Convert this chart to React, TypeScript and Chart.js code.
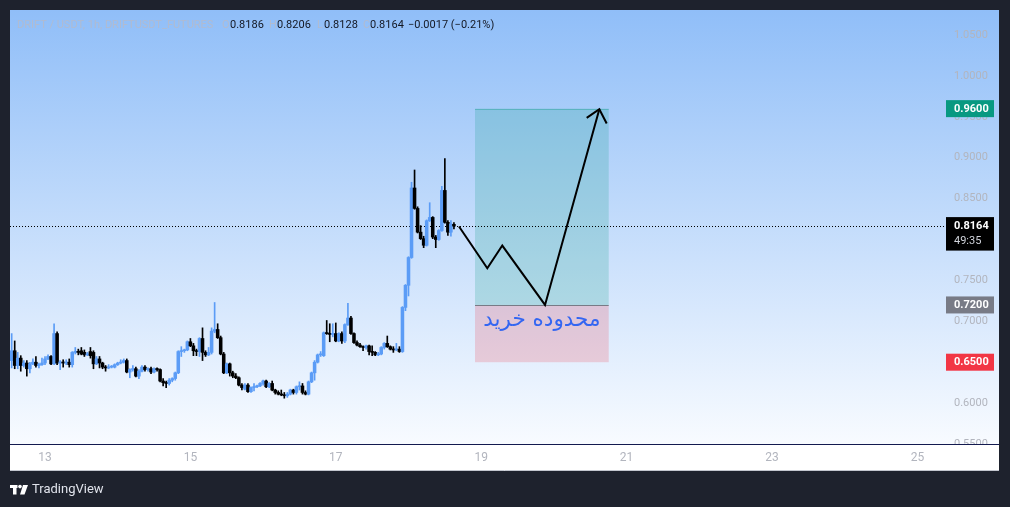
import { useEffect, useRef } from "react";
import { Chart, registerables } from "chart.js";

Chart.register(...registerables);

// ---- text ----
const symbolTitle = "DRIFT / USDT, 1h, DRIFTUSDT_FUTURES";
const ohlcLetters = ["O", "H", "L", "C"];
const ohlcValues = ["0.8186", "0.8206", "0.8128", "0.8164"];
const changeText = "−0.0017 (−0.21%)";
const countdownText = "49:35";
const zoneLabel = "محدوده خرید";
const brandText = "TradingView";

// ---- candles (1h), first candle at day 12, 13:00 ----
const firstCandleDay = 12 + 13 / 24;
const opens = [
  0.652, 0.664, 0.646, 0.655, 0.646, 0.649, 0.642, 0.648, 0.650, 0.646,
  0.647, 0.649, 0.654, 0.657, 0.648, 0.685, 0.649, 0.650, 0.649, 0.650,
  0.647, 0.662, 0.663, 0.664, 0.662, 0.659, 0.663, 0.662, 0.648, 0.654,
  0.649, 0.644, 0.643, 0.644, 0.644, 0.647, 0.649, 0.650, 0.652, 0.638,
  0.641, 0.642, 0.633, 0.639, 0.644, 0.641, 0.642, 0.638, 0.642, 0.641,
  0.627, 0.625, 0.624, 0.628, 0.630, 0.637, 0.663, 0.664, 0.665, 0.675,
  0.670, 0.664, 0.663, 0.679, 0.662, 0.659, 0.662, 0.688, 0.690, 0.680,
  0.660, 0.637, 0.648, 0.637, 0.633, 0.631, 0.622, 0.617, 0.622, 0.614,
  0.619, 0.620, 0.621, 0.624, 0.627, 0.620, 0.624, 0.616, 0.613, 0.611,
  0.610, 0.609, 0.611, 0.616, 0.613, 0.620, 0.621, 0.613, 0.611, 0.626,
  0.637, 0.650, 0.659, 0.658, 0.686, 0.685, 0.684, 0.685, 0.676, 0.685,
  0.676, 0.696, 0.704, 0.685, 0.674, 0.671, 0.669, 0.668, 0.670, 0.663,
  0.662, 0.659, 0.660, 0.668, 0.673, 0.669, 0.666, 0.665, 0.666, 0.663,
  0.717, 0.744, 0.778, 0.863, 0.838, 0.809, 0.801, 0.793, 0.823, 0.827,
  0.803, 0.800, 0.811, 0.860, 0.821, 0.809, 0.8186,
];
const highs = [
  0.685, 0.676, 0.662, 0.658, 0.652, 0.652, 0.650, 0.654, 0.657, 0.649,
  0.655, 0.657, 0.659, 0.658, 0.697, 0.687, 0.652, 0.653, 0.653, 0.654,
  0.663, 0.668, 0.666, 0.668, 0.665, 0.662, 0.668, 0.664, 0.657, 0.657,
  0.650, 0.646, 0.647, 0.646, 0.648, 0.650, 0.653, 0.654, 0.654, 0.642,
  0.646, 0.644, 0.641, 0.646, 0.646, 0.643, 0.644, 0.643, 0.643, 0.642,
  0.630, 0.627, 0.630, 0.631, 0.638, 0.664, 0.669, 0.666, 0.676, 0.679,
  0.673, 0.666, 0.680, 0.692, 0.664, 0.668, 0.692, 0.723, 0.697, 0.682,
  0.662, 0.649, 0.649, 0.639, 0.636, 0.632, 0.624, 0.624, 0.624, 0.620,
  0.624, 0.622, 0.625, 0.628, 0.628, 0.625, 0.627, 0.617, 0.615, 0.616,
  0.613, 0.613, 0.617, 0.617, 0.621, 0.626, 0.624, 0.615, 0.627, 0.638,
  0.652, 0.660, 0.663, 0.687, 0.701, 0.697, 0.697, 0.698, 0.686, 0.687,
  0.697, 0.722, 0.706, 0.686, 0.676, 0.673, 0.670, 0.671, 0.671, 0.670,
  0.663, 0.662, 0.669, 0.674, 0.682, 0.670, 0.669, 0.673, 0.669, 0.718,
  0.745, 0.779, 0.870, 0.885, 0.840, 0.817, 0.804, 0.824, 0.845, 0.828,
  0.805, 0.812, 0.865, 0.899, 0.823, 0.823, 0.8206,
];
const lows = [
  0.643, 0.642, 0.642, 0.639, 0.644, 0.633, 0.637, 0.647, 0.644, 0.643,
  0.646, 0.647, 0.653, 0.647, 0.647, 0.647, 0.641, 0.644, 0.647, 0.644,
  0.644, 0.660, 0.659, 0.659, 0.657, 0.658, 0.655, 0.642, 0.647, 0.643,
  0.642, 0.639, 0.642, 0.643, 0.643, 0.646, 0.648, 0.649, 0.637, 0.631,
  0.639, 0.632, 0.630, 0.638, 0.639, 0.639, 0.636, 0.637, 0.639, 0.626,
  0.621, 0.619, 0.622, 0.626, 0.628, 0.636, 0.657, 0.662, 0.664, 0.669,
  0.658, 0.658, 0.657, 0.652, 0.657, 0.658, 0.660, 0.686, 0.679, 0.659,
  0.636, 0.636, 0.633, 0.631, 0.630, 0.621, 0.616, 0.616, 0.613, 0.613,
  0.615, 0.619, 0.620, 0.622, 0.619, 0.619, 0.615, 0.611, 0.610, 0.609,
  0.606, 0.607, 0.610, 0.611, 0.611, 0.616, 0.611, 0.610, 0.610, 0.625,
  0.628, 0.649, 0.657, 0.657, 0.684, 0.675, 0.681, 0.675, 0.675, 0.673,
  0.674, 0.695, 0.684, 0.673, 0.670, 0.668, 0.664, 0.666, 0.659, 0.658,
  0.658, 0.658, 0.659, 0.666, 0.668, 0.665, 0.662, 0.664, 0.662, 0.662,
  0.713, 0.731, 0.777, 0.837, 0.808, 0.800, 0.790, 0.792, 0.822, 0.801,
  0.790, 0.799, 0.810, 0.820, 0.805, 0.804, 0.8128,
];
const closes = [
  0.664, 0.646, 0.655, 0.646, 0.649, 0.642, 0.648, 0.650, 0.646, 0.647,
  0.649, 0.654, 0.657, 0.648, 0.685, 0.649, 0.650, 0.649, 0.650, 0.647,
  0.662, 0.663, 0.662, 0.660, 0.659, 0.660, 0.658, 0.648, 0.654, 0.649,
  0.644, 0.643, 0.644, 0.645, 0.647, 0.649, 0.650, 0.652, 0.638, 0.641,
  0.642, 0.633, 0.639, 0.644, 0.641, 0.642, 0.638, 0.642, 0.641, 0.627,
  0.625, 0.624, 0.628, 0.630, 0.637, 0.663, 0.664, 0.665, 0.675, 0.670,
  0.664, 0.663, 0.679, 0.662, 0.659, 0.662, 0.688, 0.690, 0.680, 0.660,
  0.637, 0.648, 0.637, 0.633, 0.631, 0.622, 0.619, 0.622, 0.614, 0.619,
  0.620, 0.621, 0.624, 0.627, 0.620, 0.624, 0.616, 0.613, 0.611, 0.610,
  0.609, 0.611, 0.616, 0.613, 0.620, 0.621, 0.613, 0.611, 0.626, 0.637,
  0.650, 0.659, 0.660, 0.686, 0.685, 0.684, 0.685, 0.676, 0.685, 0.676,
  0.696, 0.704, 0.685, 0.674, 0.671, 0.669, 0.668, 0.670, 0.663, 0.662,
  0.659, 0.660, 0.668, 0.673, 0.669, 0.666, 0.665, 0.666, 0.663, 0.717,
  0.744, 0.778, 0.863, 0.838, 0.809, 0.801, 0.793, 0.823, 0.827, 0.803,
  0.800, 0.811, 0.860, 0.821, 0.809, 0.819, 0.8164,
];

// ---- axes ----
const dayTicks = [13, 15, 17, 19, 21, 23, 25];
const priceTicks = [0.55, 0.6, 0.65, 0.7, 0.75, 0.8, 0.85, 0.9, 0.95, 1.0, 1.05];
const xMin = 12.5186;
const xMax = 25.3934;
const yMin = 0.55;
const yMax = 1.0806;

// ---- long position drawing ----
const zoneStartDay = 18.915;
const zoneEndDay = 20.754;
const targetPrice = 0.96;
const entryPrice = 0.72;
const stopPrice = 0.65;
const zoneLabelPrice = 0.6942;
const pathDays = [18.695, 19.084, 19.29, 19.878, 20.625];
const pathPrices = [0.8159, 0.7648, 0.7926, 0.72, 0.9593];
const arrowDays = [20.451, 20.625, 20.726];
const arrowPrices = [0.9487, 0.9593, 0.9418];

const UP = "#5b9cf6";
const DOWN = "#000000";
const AXIS_TEXT = "#b2b5be";

const candleDays = opens.map((_, i) => firstCandleDay + i / 24);
const candleColor = (i: number) => (closes[i] >= opens[i] ? UP : DOWN);
const lastClose = closes[closes.length - 1];

const decorPlugin = {
  id: "tvDecor",
  beforeDraw(chart: any) {
    const { ctx, width, height } = chart;
    const ys = chart.scales.y;
    const xs = chart.scales.x;
    const L = xs.left;
    const R = ys.right;
    const T = ys.top;
    const B = ys.bottom;
    ctx.save();
    ctx.fillStyle = "#1e222d";
    ctx.fillRect(0, 0, width, height);
    const g = ctx.createLinearGradient(0, T, 0, B);
    g.addColorStop(0, "#90bef8");
    g.addColorStop(1, "#f8fbff");
    ctx.fillStyle = g;
    ctx.fillRect(L, T, R - L, B - T);
    ctx.fillStyle = "#ffffff";
    ctx.fillRect(L, xs.top, R - L, xs.bottom - xs.top);
    ctx.restore();
  },
  beforeDatasetsDraw(chart: any) {
    const { ctx } = chart;
    const ys = chart.scales.y;
    const xs = chart.scales.x;
    const L = xs.left;
    const R = ys.right;
    ctx.save();
    ctx.fillStyle = "#ffffff";
    ctx.fillRect(L, xs.top, R - L, xs.bottom - xs.top);
    ctx.strokeStyle = "#c3c6ce";
    ctx.lineWidth = 1;
    ctx.beginPath();
    ctx.moveTo(L, xs.bottom - 0.5);
    ctx.lineTo(R, xs.bottom - 0.5);
    ctx.stroke();
    ctx.strokeStyle = "#131a4f";
    ctx.lineWidth = 1.2;
    ctx.beginPath();
    ctx.moveTo(L, xs.top + 0.5);
    ctx.lineTo(R, xs.top + 0.5);
    ctx.stroke();

    const x0 = xs.getPixelForValue(zoneStartDay);
    const x1 = xs.getPixelForValue(zoneEndDay);
    const yT = ys.getPixelForValue(targetPrice);
    const yE = ys.getPixelForValue(entryPrice);
    const yS = ys.getPixelForValue(stopPrice);
    ctx.fillStyle = "rgba(8,153,129,0.2)";
    ctx.fillRect(x0, yT, x1 - x0, yE - yT);
    ctx.fillStyle = "rgba(242,54,69,0.2)";
    ctx.fillRect(x0, yE, x1 - x0, yS - yE);
    ctx.strokeStyle = "rgba(8,153,129,0.35)";
    ctx.lineWidth = 1;
    ctx.beginPath();
    ctx.moveTo(x0, Math.round(yT) + 0.5);
    ctx.lineTo(x1, Math.round(yT) + 0.5);
    ctx.stroke();
    ctx.strokeStyle = "#787b86";
    ctx.beginPath();
    ctx.moveTo(x0, Math.round(yE) + 0.5);
    ctx.lineTo(x1, Math.round(yE) + 0.5);
    ctx.stroke();

    const yC = Math.round(ys.getPixelForValue(lastClose)) + 0.5;
    ctx.strokeStyle = "#000000";
    ctx.setLineDash([1, 2]);
    ctx.beginPath();
    ctx.moveTo(L, yC);
    ctx.lineTo(xs.right, yC);
    ctx.stroke();
    ctx.setLineDash([]);
    ctx.restore();
  },
  afterDatasetsDraw(chart: any) {
    const { ctx } = chart;
    const ys = chart.scales.y;
    const xs = chart.scales.x;
    const cx = (xs.getPixelForValue(zoneStartDay) + xs.getPixelForValue(zoneEndDay)) / 2;
    ctx.save();
    ctx.font = '21.5px "DejaVu Sans"';
    ctx.fillStyle = "#3366f2";
    ctx.textAlign = "center";
    ctx.textBaseline = "alphabetic";
    ctx.direction = "rtl";
    ctx.fillText(zoneLabel, cx, ys.getPixelForValue(zoneLabelPrice));
    ctx.restore();
  },
  afterDraw(chart: any) {
    const { ctx } = chart;
    const ys = chart.scales.y;
    const left = ys.left;
    const boxW = 48;
    ctx.save();
    ctx.textBaseline = "middle";
    ctx.textAlign = "left";
    const box = (price: number, color: string, text: string) => {
      const y = ys.getPixelForValue(price);
      ctx.fillStyle = color;
      ctx.fillRect(left, y - 8.5, boxW, 17);
      ctx.fillStyle = "#ffffff";
      ctx.font = "bold 11px Roboto";
      ctx.fillText(text, left + 8, y + 0.5);
    };
    box(targetPrice, "#089981", targetPrice.toFixed(4));
    box(entryPrice, "#787b86", entryPrice.toFixed(4));
    box(stopPrice, "#f23645", stopPrice.toFixed(4));
    const yc = ys.getPixelForValue(lastClose);
    ctx.fillStyle = "#000000";
    ctx.fillRect(left, yc - 9, boxW, 33.5);
    ctx.fillStyle = "#ffffff";
    ctx.font = "bold 11px Roboto";
    ctx.fillText(lastClose.toFixed(4), left + 8, yc + 0.5);
    ctx.fillStyle = "#d1d4dc";
    ctx.font = "11px Roboto";
    ctx.fillText(countdownText, left + 8, yc + 15);

    const hy = 25;
    ctx.font = "11px Roboto";
    ctx.fillStyle = "rgba(178,186,205,0.95)";
    ctx.fillText(symbolTitle, 17, hy, 198);
    const letterX = [222, 269, 317, 363];
    const valueX = [230, 277, 324, 370];
    ohlcLetters.forEach((l, i) => {
      ctx.fillStyle = "rgba(178,186,205,0.95)";
      ctx.fillText(l, letterX[i], hy);
      ctx.fillStyle = "#131722";
      ctx.fillText(ohlcValues[i], valueX[i], hy);
    });
    ctx.fillStyle = "#131722";
    ctx.fillText(changeText, 408, hy);

    ctx.fillStyle = "#ffffff";
    ctx.fillRect(10, 485, 7.5, 3);
    ctx.fillRect(13, 485, 3.5, 9.5);
    ctx.beginPath();
    ctx.arc(20, 486.6, 1.8, 0, Math.PI * 2);
    ctx.fill();
    ctx.beginPath();
    ctx.moveTo(23, 485);
    ctx.lineTo(28, 485);
    ctx.lineTo(24.5, 494.5);
    ctx.lineTo(20, 494.5);
    ctx.closePath();
    ctx.fill();
    ctx.font = "13px Roboto";
    ctx.fillStyle = "#e0e3eb";
    ctx.fillText(brandText, 32, 490);
    ctx.restore();
  },
};

export default function App() {
  const ref = useRef<HTMLCanvasElement>(null);
  useEffect(() => {
    if (!ref.current) return;
    const wickData = candleDays.map((d, i) => ({ x: d, y: [lows[i], highs[i]] }));
    const bodyData = candleDays.map((d, i) => ({ x: d, y: [opens[i], closes[i]] }));
    const pathData = pathDays.map((d, i) => ({ x: d, y: pathPrices[i] }));
    const arrowData = arrowDays.map((d, i) => ({ x: d, y: arrowPrices[i] }));
    const chart = new Chart(ref.current, {
      type: "bar",
      data: {
        datasets: [
          {
            type: "line",
            data: pathData as any,
            borderColor: "#000000",
            borderWidth: 2,
            pointRadius: 0,
            tension: 0,
            order: 0,
          } as any,
          {
            type: "line",
            data: arrowData as any,
            borderColor: "#000000",
            borderWidth: 2,
            pointRadius: 0,
            tension: 0,
            order: 0,
          } as any,
          {
            data: bodyData as any,
            backgroundColor: (c: any) => candleColor(c.dataIndex),
            borderWidth: 0,
            grouped: false,
            barPercentage: 1,
            categoryPercentage: 1,
            maxBarThickness: 2.9,
            minBarLength: 1,
            order: 1,
          } as any,
          {
            data: wickData as any,
            backgroundColor: (c: any) => candleColor(c.dataIndex),
            borderWidth: 0,
            grouped: false,
            barPercentage: 1,
            categoryPercentage: 1,
            maxBarThickness: 1,
            order: 2,
          } as any,
        ],
      },
      options: {
        animation: false,
        responsive: false,
        maintainAspectRatio: false,
        layout: { padding: { left: 10, top: 10, right: 11, bottom: 36 } },
        plugins: { legend: { display: false }, tooltip: { enabled: false } },
        scales: {
          x: {
            type: "linear",
            min: xMin,
            max: xMax,
            offset: false,
            grid: { display: false, drawTicks: false },
            border: { display: false },
            ticks: {
              z: 1,
              color: AXIS_TEXT,
              font: { family: "Roboto", size: 12 },
              padding: 7,
              maxRotation: 0,
              autoSkip: false,
              callback: (v: any) => String(v),
            },
            afterBuildTicks: (s: any) => {
              s.ticks = dayTicks.map((v) => ({ value: v }));
            },
            afterFit: (s: any) => {
              s.height = 27;
              s.paddingLeft = 0;
              s.paddingRight = 0;
            },
          },
          y: {
            type: "linear",
            position: "right",
            min: yMin,
            max: yMax,
            grid: { display: false, drawTicks: false },
            border: { display: false },
            ticks: {
              color: AXIS_TEXT,
              font: { family: "Roboto", size: 11 },
              padding: 8,
              autoSkip: false,
              callback: (v: any) => Number(v).toFixed(4),
            },
            afterBuildTicks: (s: any) => {
              s.ticks = priceTicks.map((v) => ({ value: v }));
            },
            afterFit: (s: any) => {
              s.width = 53;
              s.paddingTop = 0;
              s.paddingBottom = 0;
            },
          },
        },
      } as any,
      plugins: [decorPlugin],
    });
    return () => chart.destroy();
  }, []);
  return (
    <div style={{ position: "absolute", left: 0, top: 0, width: 1010, height: 507 }}>
      <canvas ref={ref} width={1010} height={507} style={{ display: "block" }} />
    </div>
  );
}
